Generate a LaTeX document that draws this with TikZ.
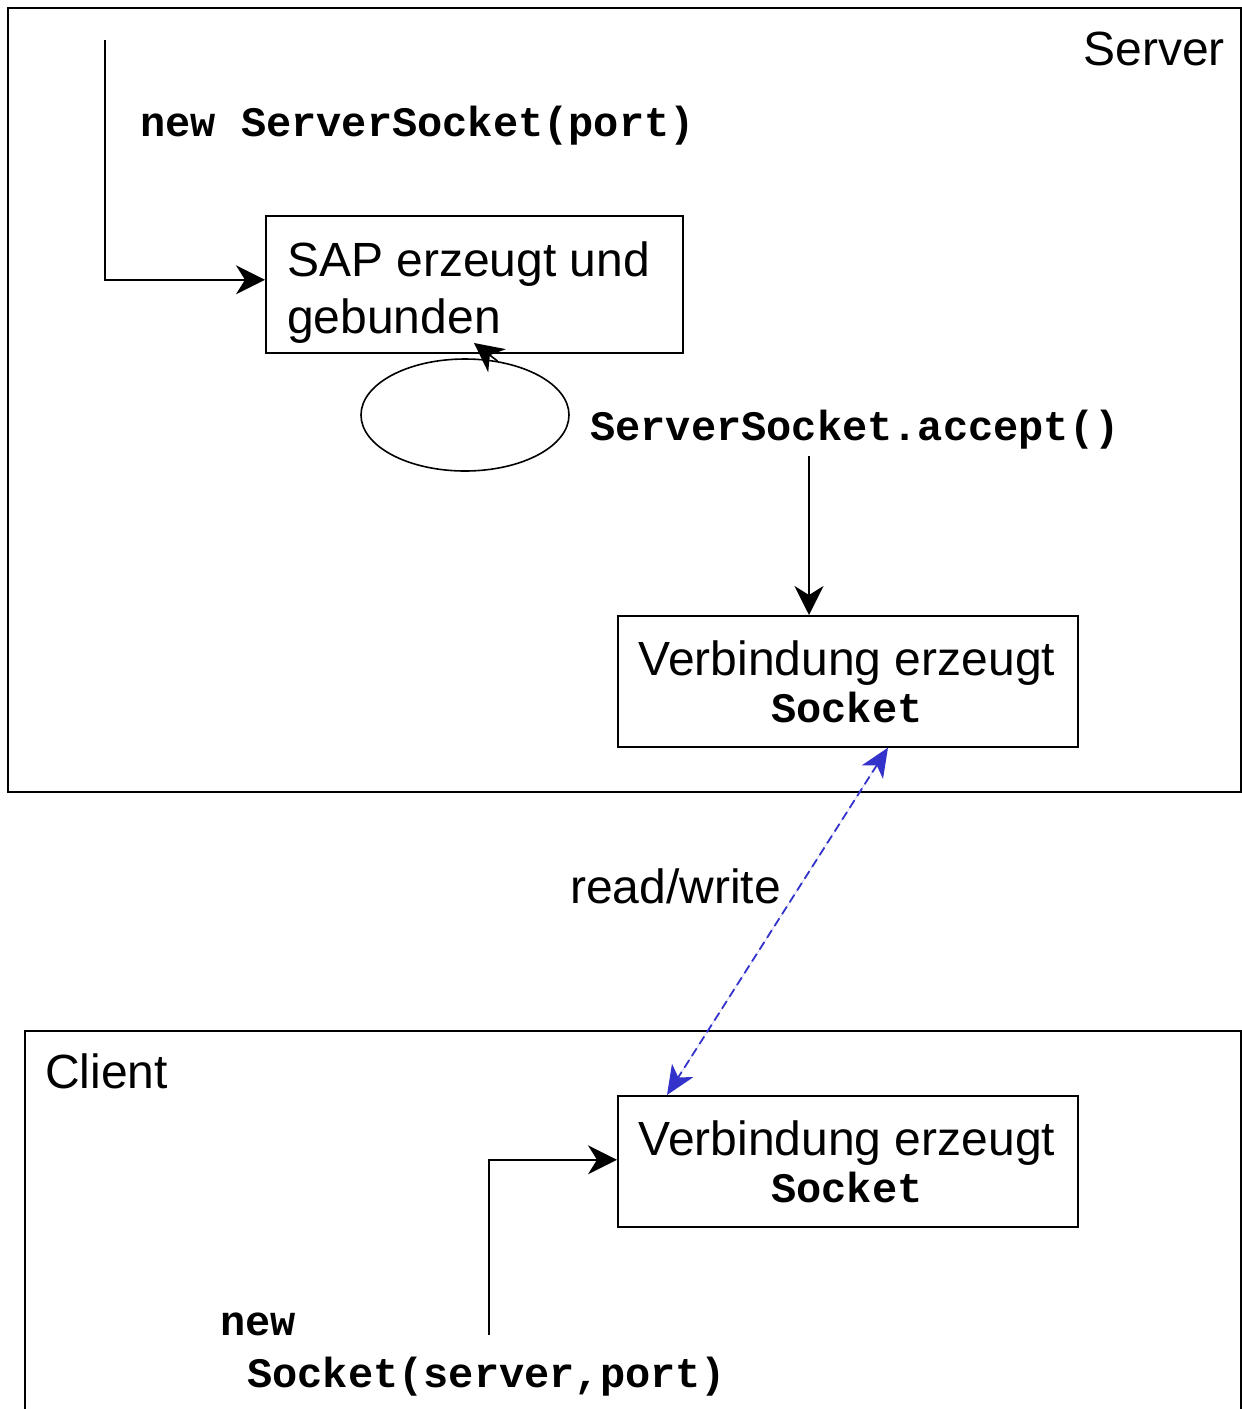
\documentclass[tikz,border=0pt]{standalone}
\usepackage{fontspec}
\setmainfont{Liberation Sans}
\setmonofont{Liberation Mono}
\usetikzlibrary{arrows.meta,shapes.geometric}
\definecolor{rwblue}{HTML}{3333CC}
\begin{document}
\begin{tikzpicture}[x=1pt,y=-1pt,
  sans/.style={font=\fontsize{48}{58}\selectfont, inner sep=0pt},
  code/.style={font=\fontsize{42}{52}\selectfont\ttfamily\bfseries, inner sep=0pt},
  frame/.style={draw, line width=1.6pt},
  box/.style={draw, line width=1.6pt, inner sep=0pt, anchor=north west},
  arr/.style={-{Stealth[length=29pt,width=29pt,inset=9pt]}, line width=1.6pt},
  rw/.style={{Stealth[length=29pt,width=25pt,inset=8pt]}-{Stealth[length=29pt,width=25pt,inset=8pt]},
    draw=rwblue, fill=rwblue, line width=1.8pt, dash pattern=on 9pt off 5pt},
]
\useasboundingbox (0,0) rectangle (1242,1409);

% Server frame
\draw[frame] (8,8) rectangle (1241,792);
\node[sans, anchor=base east] (servertitle) at (1225,65) {Server};

% new ServerSocket(port)
\coordinate (sstart) at (105,40);
\node[code, anchor=base west] (newss) at (140,136) {new ServerSocket(port)};
\node[box, minimum width=417pt, minimum height=137pt] (sap) at (265,215) {};
\node[sans, anchor=base west] (sap1) at (287,276) {SAP erzeugt und};
\node[sans, anchor=base west] (sap2) at (287,333) {gebunden};
\draw[arr] (sstart) |- ([yshift=4.5pt]sap.west);

% accept loop
\node[draw, ellipse, line width=1.6pt, minimum width=208pt, minimum height=112pt, inner sep=0pt] (loop) at (465,415) {};
\coordinate (loopend) at (474,343);
\draw[arr] (loop.59) -- (loopend);
\node[code, anchor=base west] (accept) at (590,440) {ServerSocket.accept()};

% server connection box
\node[box, minimum width=460pt, minimum height=131pt] (sbox) at (617,615) {};
\node[sans, anchor=base] (sbox1) at (847,675) {Verbindung erzeugt};
\node[code, anchor=base] (sbox2) at (847,722) {Socket};
\coordinate (accstart) at (809,456);
\draw[arr] (accstart) -- (accstart |- sbox.north);

% read/write
\node[sans, anchor=base west] (rwlabel) at (570,903) {read/write};

% Client frame
\draw[frame] (25,1420) -- (25,1031) -- (1241,1031) -- (1241,1420);
\node[sans, anchor=base west] (clienttitle) at (45,1088) {Client};

% client connection box
\node[box, minimum width=460pt, minimum height=131pt] (cbox) at (617,1095) {};
\node[sans, anchor=base] (cbox1) at (847,1155) {Verbindung erzeugt};
\node[code, anchor=base] (cbox2) at (847,1202) {Socket};

\draw[rw] ([xshift=271pt]sbox.south west) -- ([xshift=50pt]cbox.north west);

% new Socket(server,port)
\coordinate (cstart) at (489,1335);
\draw[arr] (cstart) |- ([yshift=1.5pt]cbox.west);
\node[code, anchor=base west] (newc1) at (220,1335) {new};
\node[code, anchor=base west] (newc2) at (247,1387) {Socket(server,port)};
\end{tikzpicture}
\end{document}
